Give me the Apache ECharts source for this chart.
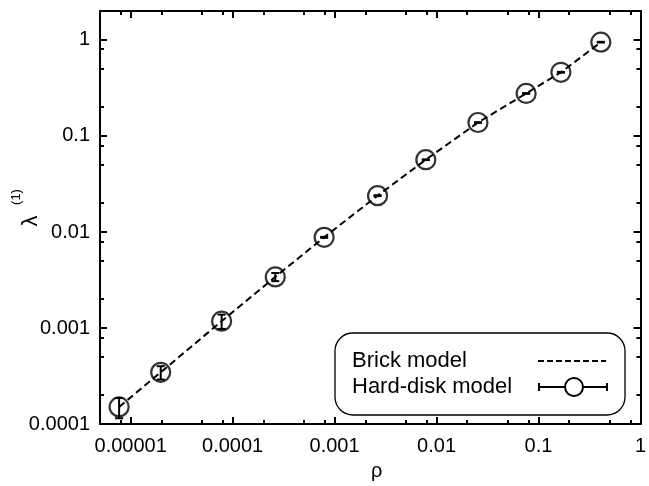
<!DOCTYPE html>
<html>
<head>
<meta charset="utf-8">
<script src="https://cdn.jsdelivr.net/npm/echarts@6/dist/echarts.min.js"></script>
<style>html,body{margin:0;padding:0;background:#fff}#c{width:649px;height:486px}</style>
</head>
<body>
<div id="c"></div>
<script>
// ---- data ----
const rho = [7.7e-6, 1.97e-5, 7.8e-5, 2.62e-4, 7.9e-4, 2.64e-3, 7.85e-3, 0.0255, 0.0757, 0.166, 0.409];
const hardDisk = [1.51e-4, 3.46e-4, 1.18e-3, 3.41e-3, 8.8e-3, 0.0239, 0.0566, 0.138, 0.277, 0.46, 0.947];
const hardDiskErr = [0.36e-4, 0.55e-4, 0.2e-3, 0.33e-3, 0.1e-3, 0.25e-3, 0.5e-3, 1.2e-3, 2.5e-3, 4e-3, 0.008];
const brickRho = [7.7e-6, 1.97e-5, 7.8e-5, 2.62e-4, 7.9e-4, 2.64e-3, 7.85e-3, 0.0255, 0.0757, 0.166, 0.409];
const brickLambda = [1.51e-4, 3.46e-4, 1.18e-3, 3.41e-3, 8.8e-3, 0.0239, 0.0566, 0.138, 0.277, 0.46, 0.947];

const xTickValues = [1e-5, 1e-4, 1e-3, 1e-2, 1e-1, 1];
const xTickLabels = ['0.00001', '0.0001', '0.001', '0.01', '0.1', '1'];
const xMinorTicks = [8e-6, 2e-5, 5e-5, 8e-5, 2e-4, 5e-4, 8e-4, 2e-3, 5e-3, 8e-3, 0.02, 0.05, 0.08, 0.2, 0.5, 0.8];
const yTickValues = [1e-4, 1e-3, 1e-2, 1e-1, 1];
const yTickLabels = ['0.0001', '0.001', '0.01', '0.1', '1'];
const yMinorTicks = [2e-4, 5e-4, 8e-4, 2e-3, 5e-3, 8e-3, 0.02, 0.05, 0.08, 0.2, 0.5, 0.8];

const seriesNames = ['Brick model', 'Hard-disk model'];
const xName = 'ρ';
const yName = 'λ';
const yNameSup = '(1)';

const FONT = '"Liberation Sans", Arial, Helvetica, sans-serif';
const X_MIN = 5e-6, X_MAX = 1, Y_MIN = 1e-4, Y_MAX = 2;

function lookup(values, labels) {
  return function (v) {
    for (let i = 0; i < values.length; i++) {
      if (Math.abs(Math.log10(v) - Math.log10(values[i])) < 1e-6) return labels[i];
    }
    return '';
  };
}

function makeAxis(dim, position, ticks, major, labels) {
  const isX = dim === 'x';
  const ax = {
    type: 'log', logBase: 10, position: position,
    min: isX ? X_MIN : Y_MIN, max: isX ? X_MAX : Y_MAX,
    axisLine: { show: major, onZero: false, lineStyle: { color: '#000', width: 2 } },
    axisTick: { show: true, inside: true, length: major ? 7 : 4, customValues: ticks,
                lineStyle: { color: '#000', width: 2 } },
    axisLabel: { show: false },
    splitLine: { show: false },
    minorTick: { show: false }
  };
  if (labels) {
    ax.axisLabel = {
      show: true, customValues: ticks,
      formatter: lookup(ticks, labels),
      color: '#000', fontSize: 20, fontFamily: FONT,
      margin: isX ? 12 : 10,
      showMinLabel: true, showMaxLabel: true
    };
  }
  return ax;
}

const chart = echarts.init(document.getElementById('c'), null, { renderer: 'canvas' });

const errData = rho.map((r, i) => [r, hardDisk[i] - hardDiskErr[i], hardDisk[i] + hardDiskErr[i]]);

chart.setOption({
  backgroundColor: '#fff',
  animation: false,
  grid: { left: 100, right: 6, top: 11, bottom: 58, containLabel: false },
  xAxis: [
    Object.assign(makeAxis('x', 'bottom', xTickValues, true, xTickLabels), {
      name: xName, nameLocation: 'middle', nameGap: 46,
      nameTextStyle: { fontSize: 20, fontFamily: FONT, color: '#000', verticalAlign: 'middle', padding: [0, 0, 0, 13] }
    }),
    makeAxis('x', 'bottom', xMinorTicks, false, null),
    makeAxis('x', 'top', xTickValues, true, null),
    makeAxis('x', 'top', xMinorTicks, false, null)
  ],
  yAxis: [
    makeAxis('y', 'left', yTickValues, true, yTickLabels),
    makeAxis('y', 'left', yMinorTicks, false, null),
    makeAxis('y', 'right', yTickValues, true, null),
    makeAxis('y', 'right', yMinorTicks, false, null)
  ],
  series: [
    {
      name: seriesNames[0], type: 'line', xAxisIndex: 0, yAxisIndex: 0,
      data: brickRho.map((r, i) => [r, brickLambda[i]]),
      showSymbol: false, symbol: 'none',
      lineStyle: { color: '#000', width: 2, type: [7, 4] },
      z: 2
    },
    {
      name: seriesNames[1] + ' error', type: 'custom', xAxisIndex: 0, yAxisIndex: 0,
      data: errData,
      encode: { x: 0, y: [1, 2] },
      renderItem: function (params, api) {
        const x = api.value(0);
        const lo = api.coord([x, api.value(1)]);
        const hi = api.coord([x, api.value(2)]);
        const st = { stroke: '#000', lineWidth: 2 };
        return {
          type: 'group',
          children: [
            { type: 'line', shape: { x1: lo[0], y1: lo[1], x2: hi[0], y2: hi[1] }, style: st },
            { type: 'line', shape: { x1: lo[0] - 4, y1: lo[1], x2: lo[0] + 4, y2: lo[1] }, style: st },
            { type: 'line', shape: { x1: hi[0] - 4, y1: hi[1], x2: hi[0] + 4, y2: hi[1] }, style: st }
          ]
        };
      },
      z: 3
    },
    {
      name: seriesNames[1], type: 'scatter', xAxisIndex: 0, yAxisIndex: 0,
      data: rho.map((r, i) => [r, hardDisk[i]]),
      symbol: 'circle', symbolSize: 19,
      itemStyle: { color: 'rgba(0,0,0,0)', borderColor: '#000', borderWidth: 2.2 },
      z: 4
    }
  ],
  graphic: [
    {
      type: 'group', x: 31, y: 221, rotation: Math.PI / 2,
      children: [
        { type: 'text', x: 0, y: 0, style: { text: yName, font: '22px ' + FONT, fill: '#000', textAlign: 'center', textVerticalAlign: 'middle' } },
        { type: 'text', x: 24, y: -15, style: { text: yNameSup, font: '13px ' + FONT, fill: '#000', textAlign: 'center', textVerticalAlign: 'middle' } }
      ]
    },
    {
      type: 'rect', shape: { x: 335, y: 333, width: 290, height: 82, r: 18 },
      style: { fill: '#fff', stroke: '#000', lineWidth: 1.3 }, z: 10
    },
    { type: 'text', x: 352, y: 361, style: { text: seriesNames[0], font: '22px ' + FONT, fill: '#000', textVerticalAlign: 'middle' }, z: 11 },
    { type: 'text', x: 352, y: 387, style: { text: seriesNames[1], font: '22px ' + FONT, fill: '#000', textVerticalAlign: 'middle' }, z: 11 },
    { type: 'line', shape: { x1: 538, y1: 361, x2: 606, y2: 361 }, style: { stroke: '#000', lineWidth: 2, lineDash: [6, 3] }, z: 11 },
    { type: 'line', shape: { x1: 539, y1: 387, x2: 607, y2: 387 }, style: { stroke: '#000', lineWidth: 2 }, z: 11 },
    { type: 'line', shape: { x1: 539, y1: 383, x2: 539, y2: 391 }, style: { stroke: '#000', lineWidth: 2 }, z: 11 },
    { type: 'line', shape: { x1: 607, y1: 383, x2: 607, y2: 391 }, style: { stroke: '#000', lineWidth: 2 }, z: 11 },
    { type: 'circle', shape: { cx: 574, cy: 387, r: 9 }, style: { fill: '#fff', stroke: '#000', lineWidth: 2 }, z: 12 }
  ]
});
</script>
</body>
</html>
